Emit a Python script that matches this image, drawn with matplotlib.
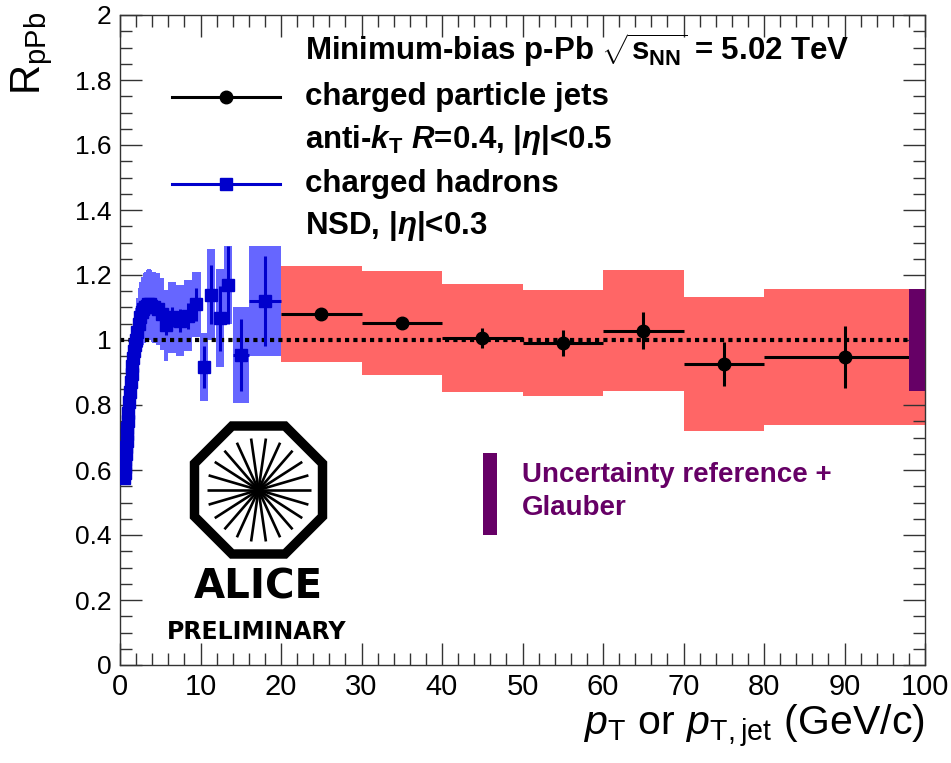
import numpy as np
import matplotlib
matplotlib.use("Agg")
import matplotlib.pyplot as plt
from matplotlib.lines import Line2D
from matplotlib.patches import Rectangle, Polygon
from matplotlib.ticker import MultipleLocator, FuncFormatter

plt.rcParams['font.family'] = ['Liberation Sans', 'DejaVu Sans']
plt.rcParams['mathtext.fontset'] = 'custom'
plt.rcParams['mathtext.rm'] = 'Liberation Sans:bold'
plt.rcParams['mathtext.bf'] = 'Liberation Sans:bold'
plt.rcParams['mathtext.it'] = 'Liberation Sans:bold:italic'
plt.rcParams['mathtext.sf'] = 'Liberation Sans'
plt.rcParams['mathtext.cal'] = 'Liberation Sans:italic'
plt.rcParams['mathtext.tt'] = 'Liberation Sans'

# ---- charged particle jets (anti-kT, R=0.4) ----
jet_pt = [25, 35, 45, 55, 65, 75, 90]
jet_hw = [5, 5, 5, 5, 5, 5, 10]
jet_r = [1.080, 1.052, 1.006, 0.991, 1.028, 0.926, 0.948]
jet_stat = [0.012, 0.012, 0.030, 0.040, 0.057, 0.068, 0.095]
jet_syst = [0.148, 0.160, 0.165, 0.164, 0.186, 0.207, 0.210]

# ---- charged hadrons (NSD) ----
had_pt = [0.525, 0.575, 0.625, 0.675, 0.725, 0.775, 0.825, 0.875, 0.925, 0.975,
          1.05, 1.15, 1.25, 1.35, 1.45, 1.55, 1.65, 1.75, 1.85, 1.95,
          2.1, 2.3, 2.5, 2.7, 2.9, 3.1, 3.3, 3.5, 3.7, 3.9,
          4.25, 4.75, 5.25, 5.75, 6.5, 7.5, 8.5, 9.5,
          10.4, 11.3, 12.4, 13.4, 15.0, 18.0]
had_hw = [0.025] * 10 + [0.05] * 10 + [0.1] * 10 + [0.25] * 4 + [0.5] * 4 + \
         [0.5, 0.5, 0.5, 0.5, 1.0, 2.0]
had_r = [0.575, 0.590, 0.610, 0.630, 0.650, 0.670, 0.690, 0.710, 0.730, 0.750,
         0.775, 0.810, 0.840, 0.870, 0.895, 0.920, 0.945, 0.965, 0.985, 1.000,
         1.025, 1.050, 1.070, 1.085, 1.095, 1.100, 1.105, 1.110, 1.110, 1.105,
         1.100, 1.095, 1.080, 1.045, 1.070, 1.060, 1.075, 1.110,
         0.917, 1.140, 1.067, 1.170, 0.954, 1.120]
had_stat = [0.005] * 20 + [0.006] * 10 + \
           [0.010, 0.015, 0.020, 0.030, 0.030, 0.035, 0.040, 0.050,
            0.064, 0.090, 0.100, 0.120, 0.110, 0.138]
had_syst = [0.035, 0.036, 0.037, 0.038, 0.040, 0.042, 0.044, 0.046, 0.048, 0.050,
            0.055, 0.060, 0.065, 0.070, 0.075, 0.080, 0.085, 0.090, 0.095, 0.100,
            0.105, 0.110, 0.110, 0.110, 0.110, 0.110, 0.110, 0.110, 0.110, 0.110,
            0.110, 0.110, 0.110, 0.110, 0.110, 0.110, 0.110, 0.100,
            0.105, 0.140, 0.150, 0.120, 0.148, 0.168]

# normalisation uncertainty (reference + Glauber) around unity
norm_center = 1.0
norm_unc = 0.157
norm_x = 99.0
norm_w = 2.0

BLUE = '#0000CC'
LIGHTBLUE = '#6666FF'
RED = '#FF6666'
PURPLE = '#660066'

W, H = 951, 763
fig = plt.figure(figsize=(W / 100, H / 100), dpi=100)
ax = fig.add_axes([120 / W, 98 / H, 805 / W, 650 / H])
ax.set_xlim(0, 100)
ax.set_ylim(0, 2)

# systematic boxes
jr = np.array(jet_r); js = np.array(jet_syst)
ax.bar(jet_pt, 2 * js, bottom=jr - js, width=2 * np.array(jet_hw),
       color=RED, linewidth=0, zorder=1)
hr = np.array(had_r); hs = np.array(had_syst)
ax.bar(had_pt, 2 * hs, bottom=hr - hs, width=2 * np.array(had_hw),
       color=LIGHTBLUE, linewidth=0, zorder=1)

# unity reference
ax.axhline(1.0, color='black', lw=3.0, ls=(0, (1.0, 1.0)), zorder=2)

# statistical points
ax.errorbar(had_pt, had_r, xerr=had_hw, yerr=had_stat, fmt='s', color=BLUE,
            ms=9, elinewidth=2.2, capsize=0, zorder=3)
ax.errorbar(jet_pt, jet_r, xerr=jet_hw, yerr=jet_stat, fmt='o', color='black',
            ms=9, elinewidth=2.2, capsize=0, zorder=4)

# normalisation box at the right edge
ax.bar([norm_x], [2 * norm_unc], bottom=norm_center - norm_unc, width=norm_w,
       color=PURPLE, linewidth=0, zorder=5)

# axes styling
ax.xaxis.set_major_locator(MultipleLocator(10))
ax.xaxis.set_minor_locator(MultipleLocator(2))
ax.yaxis.set_major_locator(MultipleLocator(0.2))
ax.yaxis.set_minor_locator(MultipleLocator(0.05))
ax.yaxis.set_major_formatter(FuncFormatter(lambda v, p: '%g' % round(v, 2)))
ax.tick_params(which='both', direction='in', top=True, right=True, width=1.0,
               color='#333333')
ax.tick_params(which='major', length=16)
ax.tick_params(which='minor', length=8.5)
ax.tick_params(axis='y', labelsize=19, pad=6)
ax.tick_params(axis='x', labelsize=21, pad=6)
for s in ax.spines.values():
    s.set_linewidth(1.0)
    s.set_color('#333333')

fig.text(925 / W, 1 - 727 / H,
         r'$\mathcal{p}_{\mathtt{T}}\mathtt{\ or\ }\mathcal{p}_{\mathtt{T,jet}}\mathtt{\ (GeV/c)}$',
         ha='right', va='center', fontsize=29.5)
fig.text(32 / W, 1 - 12 / H, r'$\mathsf{R}_{\mathsf{pPb}}$', rotation=90,
         ha='center', va='top', fontsize=30)

# legend
leg_font = dict(fontsize=22.5, fontweight='bold', transform=ax.transAxes,
                va='center', ha='left')
tx = 0.2298
ax.text(tx, 0.946, r'Minimum-bias p-Pb $\sqrt{\mathrm{s}_{\mathrm{NN}}}$ = 5.02 TeV', **leg_font)
ax.text(tx, 0.874, 'charged particle jets', **leg_font)
ax.text(tx, 0.808, r'anti-$\mathit{k}_{\mathrm{T}}$ $\mathit{R}$=0.4, |$\eta$|<0.5', **leg_font)
ax.text(tx, 0.740, 'charged hadrons', **leg_font)
ax.text(tx, 0.675, r'NSD, |$\eta$|<0.3', **leg_font)
ax.add_line(Line2D([0.0646, 0.199], [0.874, 0.874], color='black', lw=2.2,
                   transform=ax.transAxes, zorder=6))
ax.add_line(Line2D([0.132], [0.874], color='black', marker='o', ms=9,
                   transform=ax.transAxes, zorder=6))
ax.add_line(Line2D([0.0646, 0.199], [0.740, 0.740], color=BLUE, lw=2.2,
                   transform=ax.transAxes, zorder=6))
ax.add_line(Line2D([0.132], [0.740], color=BLUE, marker='s', ms=9,
                   transform=ax.transAxes, zorder=6))

ax.add_patch(Rectangle((0.451, 0.200), 0.017, 0.126, color=PURPLE,
                       transform=ax.transAxes, zorder=6, linewidth=0))
ax.text(0.4994, 0.292, 'Uncertainty reference +', color=PURPLE, fontsize=20,
        fontweight='bold', transform=ax.transAxes, va='center', ha='left')
ax.text(0.4994, 0.2415, 'Glauber', color=PURPLE, fontsize=20,
        fontweight='bold', transform=ax.transAxes, va='center', ha='left')

# ALICE logo, drawn in pixel units
lg = fig.add_axes([150 / W, 1 - 650 / H, 220 / W, 240 / H])
lg.set_xlim(150, 370)
lg.set_ylim(650, 410)
lg.axis('off')
cx, cy, apo = 258.5, 490.0, 64.0
rad = apo / np.cos(np.pi / 8)
ang = np.pi / 8 + np.arange(8) * np.pi / 4
lg.add_patch(Polygon(np.c_[cx + rad * np.cos(ang), cy + rad * np.sin(ang)],
                     closed=True, fill=False, lw=6.8, ec='black', joinstyle='miter'))
n_spokes = 22
for k in range(n_spokes):
    a = 2 * np.pi * k / n_spokes
    lg.plot([cx, cx + 52 * np.cos(a)], [cy, cy + 52 * np.sin(a)],
            color='black', lw=1.9, solid_capstyle='butt')
lg.text(258, 588, 'ALICE', fontsize=29, fontweight='bold', family='DejaVu Sans',
        ha='center', va='center')
lg.text(257, 632, 'PRELIMINARY', fontsize=17, fontweight='bold', family='DejaVu Sans',
        ha='center', va='center')

fig.savefig('out.png', dpi=100)
